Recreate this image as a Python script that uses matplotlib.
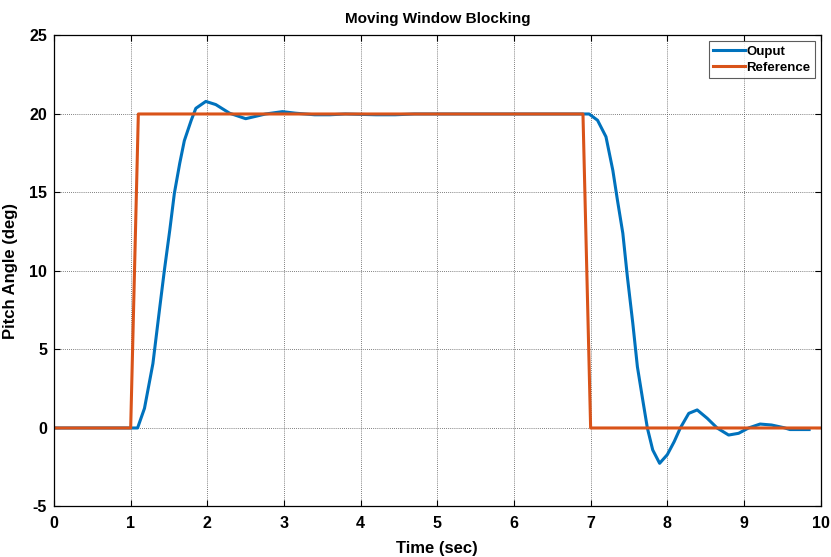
import matplotlib
matplotlib.use("Agg")
import matplotlib.pyplot as plt
from matplotlib import font_manager

# Condensed bold sans, similar to a narrow Helvetica
names = {f.name for f in font_manager.fontManager.ttflist}
family = "Liberation Sans Narrow" if "Liberation Sans Narrow" in names else "Liberation Sans"
plt.rcParams["font.family"] = [family, "DejaVu Sans"]
plt.rcParams["font.weight"] = "bold"
plt.rcParams["axes.unicode_minus"] = False

# Output (pitch angle) response, seconds / degrees
t_out = [0.0, 1.09, 1.18, 1.29, 1.38, 1.44, 1.51, 1.57, 1.64, 1.70, 1.79, 1.85,
         1.98, 2.11, 2.29, 2.50, 2.76, 2.98, 3.15, 3.40, 3.60, 3.80, 4.20, 4.45,
         4.70, 6.98, 7.09, 7.20, 7.29, 7.35, 7.42, 7.48, 7.55, 7.61, 7.68, 7.74,
         7.81, 7.90, 8.00, 8.09, 8.17, 8.28, 8.39, 8.52, 8.65, 8.80, 8.93, 9.06,
         9.21, 9.36, 9.52, 9.60, 9.85]
y_out = [0.0, 0.0, 1.25, 4.1, 7.7, 10.06, 12.6, 14.95, 16.86, 18.3, 19.6, 20.36,
         20.8, 20.6, 20.05, 19.7, 20.0, 20.15, 20.05, 19.95, 19.95, 20.0, 19.95, 19.95,
         20.0, 20.0, 19.6, 18.55, 16.4, 14.5, 12.4, 9.6, 6.67, 3.9, 1.78, 0.0,
         -1.4, -2.25, -1.7, -0.87, 0.0, 0.93, 1.15, 0.62, 0.0, -0.45, -0.34, 0.0,
         0.25, 0.19, 0.02, -0.1, -0.1]

# Reference command
t_ref = [0.0, 1.0, 1.1, 6.9, 7.0, 10.0]
y_ref = [0.0, 0.0, 20.0, 20.0, 0.0, 0.0]

x_ticks = list(range(0, 11))
y_ticks = [-5, 0, 5, 10, 15, 20, 25]

fig = plt.figure(figsize=(8.31, 5.57), dpi=100)
ax = fig.add_axes([0.065, 0.0907, 0.9225, 0.8456])

ax.plot(t_out, y_out, color="#0072BD", lw=2.2, label="Ouput")
ax.plot(t_ref, y_ref, color="#D95319", lw=2.2, label="Reference")

ax.set_xlim(0, 10)
ax.set_ylim(-5, 25)
ax.set_xticks(x_ticks)
ax.set_yticks(y_ticks)
ax.tick_params(direction="in", top=True, right=True, length=4, width=0.8,
               labelsize=11.5)
ax.tick_params(axis="x", pad=7)
ax.tick_params(axis="y", pad=5)
for lab in ax.get_xticklabels() + ax.get_yticklabels():
    lab.set_fontweight("bold")
ax.grid(True, linestyle=(0, (1, 1.5)), color="#555555", linewidth=0.6)
for s in ax.spines.values():
    s.set_linewidth(0.9)

ax.set_title("Moving Window Blocking", fontsize=11, fontweight="bold", pad=9)
ax.set_xlabel("Time (sec)", fontsize=12, fontweight="bold", labelpad=7)
ax.set_ylabel("Pitch Angle (deg)", fontsize=12, fontweight="bold", labelpad=8)

leg = ax.legend(loc="upper right", fontsize=9.5, frameon=True, fancybox=False,
                edgecolor="#333333", handlelength=2.4, handletextpad=0.15,
                borderpad=0.3, labelspacing=0.3, borderaxespad=0.45)
leg.get_frame().set_linewidth(0.8)
for txt in leg.get_texts():
    txt.set_fontweight("bold")

fig.savefig("out.png", dpi=100)
